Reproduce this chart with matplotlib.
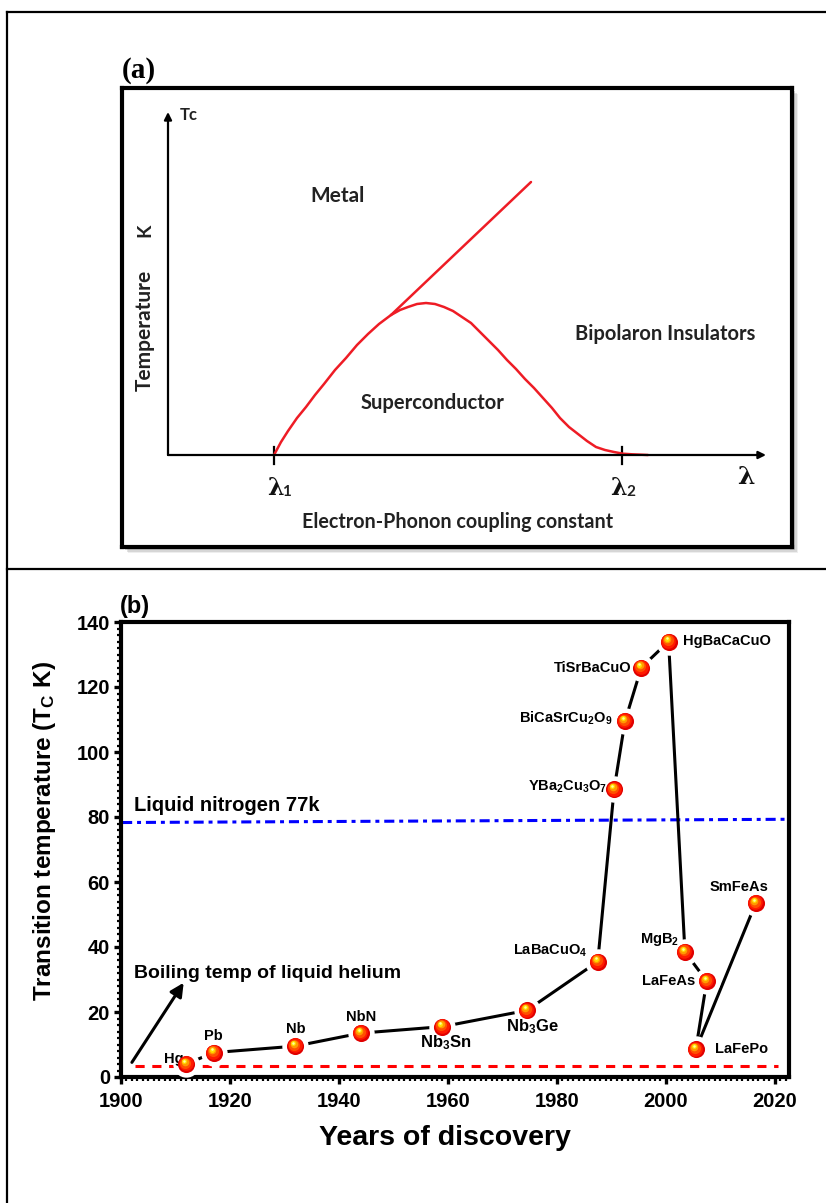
import matplotlib
matplotlib.use("Agg")
import matplotlib.pyplot as plt
from matplotlib.patches import Rectangle
from matplotlib.ticker import MultipleLocator
from matplotlib.transforms import offset_copy

plt.rcParams['font.family'] = ['Liberation Sans', 'DejaVu Sans']
plt.rcParams['mathtext.fontset'] = 'custom'
plt.rcParams['mathtext.rm'] = 'Liberation Sans:bold'
plt.rcParams['mathtext.it'] = 'Liberation Sans:bold'
plt.rcParams['mathtext.bf'] = 'Liberation Sans:bold'

# ---- panel (a): schematic phase diagram (units: lambda axis / temperature axis) ----
rise_u = [106, 113, 120, 129, 138, 147, 156, 167, 178, 189, 200, 211, 223]
rise_v = [0, 13, 24, 37, 48, 60, 71, 85, 97, 110, 121, 131, 140]
metal_u = [223, 363]
metal_v = [140, 273]
dome_u = [223, 232, 240, 249, 258, 267, 276, 285, 294, 303, 312, 321, 330, 339, 348,
          357, 366, 375, 384, 392, 401, 410, 419, 428, 437, 446, 455, 464, 480]
dome_v = [140, 145, 148, 151, 152, 151, 148, 144, 138, 132, 123, 114, 105, 95, 86,
          76, 67, 57, 47, 37, 28, 21, 14, 8, 5, 3, 1.3, 0.7, 0]
lambda1 = 106
lambda2 = 454

# ---- panel (b): superconductor discovery timeline ----
names = ['Hg', 'Pb', 'Nb', 'NbN', 'Nb$_3$Sn', 'Nb$_3$Ge', 'LaBaCuO$_4$',
         'YBa$_2$Cu$_3$O$_7$', 'BiCaSrCu$_2$O$_9$', 'TiSrBaCuO', 'HgBaCaCuO',
         'MgB$_2$', 'LaFeAs', 'LaFePo', 'SmFeAs']
years = [1912, 1917, 1932, 1944, 1959, 1974.5, 1987.5, 1990.5, 1992.5, 1995.5,
         2000.5, 2003.5, 2007.5, 2005.5, 2016.5]
tc = [4, 7.5, 9.5, 13.5, 15.5, 20.5, 35.5, 88.5, 109.5, 126, 134, 38.5, 29.5, 8.5, 53.5]
helium_tc = 3.5
nitrogen_tc = [78.3, 79.3]

# label placement (pixels: dx, dy, align, size)
label_pos = [(-3, 5, 'right', 10.5), (0, 17, 'center', 10.5), (0, 17, 'center', 10.5),
             (0, 16, 'center', 10.5), (3, -16, 'center', 12), (5, -16, 'center', 12),
             (-10, 11, 'right', 10.5), (-7, 3, 'right', 10.5), (-13, 3, 'right', 10.5),
             (-10, 0, 'right', 10.5), (14, 0, 'left', 10.5), (-6, 12, 'right', 10.5),
             (-11, 0, 'right', 10.5), (19, 0, 'left', 10.5), (-17, 16, 'center', 10.5)]

W, H = 826, 1203
fig = plt.figure(figsize=(W / 100, H / 100), dpi=100)

# background frame lines
bg = fig.add_axes([0, 0, 1, 1])
bg.set_xlim(0, W)
bg.set_ylim(H, 0)
bg.axis('off')
bg.plot([7, 7], [12, H], color='black', lw=1.6)
bg.plot([7, W], [12, 12], color='black', lw=1.6)
bg.plot([7, W], [569, 569], color='black', lw=1.6)
# soft shadow of panel (a) box
for k, a in zip([6, 4.5, 3], [0.12, 0.2, 0.3]):
    bg.add_patch(Rectangle((122 + k, 88 + k), 670, 459, facecolor='#777777',
                           edgecolor='none', alpha=a))
bg.text(122, 70, '(a)', fontsize=21, fontweight='bold', family='Liberation Serif',
        ha='left', va='center')

# panel (a)
ax_a = fig.add_axes([122 / W, (H - 547) / H, 670 / W, 459 / H])
ax_a.set_xlim(-46, 624)
ax_a.set_ylim(-92, 367)
ax_a.set_xticks([])
ax_a.set_yticks([])
for s in ax_a.spines.values():
    s.set_linewidth(3)
arr = dict(arrowstyle='-|>', lw=1.6, color='black', mutation_scale=11, shrinkA=0, shrinkB=0)
ax_a.annotate('', xy=(0, 343), xytext=(0, 0), arrowprops=arr)
ax_a.annotate('', xy=(598, 0), xytext=(0, 0), arrowprops=arr)
ax_a.plot([lambda1, lambda1], [-9, 8], color='black', lw=1.6)
ax_a.plot([lambda2, lambda2], [-9, 8], color='black', lw=1.6)
red = '#ee1c25'
ax_a.plot(rise_u, rise_v, color=red, lw=1.8, solid_capstyle='round', solid_joinstyle='round')
ax_a.plot(metal_u, metal_v, color=red, lw=1.8, solid_capstyle='round')
ax_a.plot(dome_u, dome_v, color=red, lw=1.8, solid_capstyle='round', solid_joinstyle='round')

tfont = dict(family=['Lato', 'DejaVu Sans'], fontweight='bold', color='#222222')
ax_a.text(12, 340, 'Tc', fontsize=12, ha='left', va='center', **tfont)
ax_a.text(170, 259, 'Metal', fontsize=15, ha='center', va='center', **tfont)
ax_a.text(265, 52, 'Superconductor', fontsize=14.5, ha='center', va='center', **tfont)
ax_a.text(497, 121, 'Bipolaron Insulators', fontsize=14.5, ha='center', va='center', **tfont)
ax_a.text(-23, 125, 'Temperature', fontsize=15, rotation=90, ha='center', va='center', **tfont)
ax_a.text(-23, 225, 'K', fontsize=14, rotation=90, ha='center', va='center', **tfont)
ax_a.text(290, -67, 'Electron-Phonon coupling constant', fontsize=14.2, ha='center',
          va='center', **tfont)
lfont = dict(family='DejaVu Serif', fontweight='bold', color='#111111')
ax_a.text(lambda1 + 1, -33, 'λ', fontsize=17, ha='center', va='center', **lfont)
ax_a.text(lambda1 + 8, -37, '1', fontsize=11, ha='left', va='center', **tfont)
ax_a.text(lambda2 - 4, -33, 'λ', fontsize=17, ha='center', va='center', **lfont)
ax_a.text(lambda2 + 4, -37, '2', fontsize=11, ha='left', va='center', **tfont)
ax_a.text(578, -22, 'λ', fontsize=18, ha='center', va='center', **lfont)

# panel (b)
ax = fig.add_axes([121 / W, (H - 1077) / H, 668 / W, 455 / H])
ax.set_xlim(1900, 2022.6)
ax.set_ylim(0, 140)
for s in ax.spines.values():
    s.set_linewidth(3)
ax.xaxis.set_major_locator(MultipleLocator(20))
ax.yaxis.set_major_locator(MultipleLocator(20))
ax.xaxis.set_minor_locator(MultipleLocator(1))
ax.yaxis.set_minor_locator(MultipleLocator(2))
ax.tick_params(which='major', direction='out', length=5, width=2.4, labelsize=14.5, pad=3)
ax.tick_params(axis='x', which='major', pad=6)
ax.tick_params(which='minor', direction='out', length=3, width=1.6)
for lab in ax.get_xticklabels() + ax.get_yticklabels():
    lab.set_fontweight('bold')

ax.plot([1902.5, 2020.5], [helium_tc, helium_tc], color='#ff0000', lw=2.2,
        dashes=(3, 2.5), zorder=2)
ax.plot([1900.2, 2022.5], nitrogen_tc, color='#0000ff', lw=2.2,
        dashes=(3.3, 1.6, 1.3, 1.6), zorder=2)

ax.plot(years, tc, color='black', lw=2.2, zorder=3, solid_capstyle='butt')
ax.plot(years, tc, 'o', ms=19, color='white', mec='none', zorder=4)
ball = [(0, 0, 12.3, '#e00000'), (-0.5, 0.7, 10.5, '#ff1a00'), (-1, 1.5, 8, '#ff5000'),
        (-1.5, 2.3, 5.5, '#ff9a00'), (-2, 3, 3.5, '#ffe000'), (-2, 3.3, 1.8, '#ffffa0')]
for i, (ox, oy, ms, c) in enumerate(ball):
    tr = offset_copy(ax.transData, fig=fig, x=ox, y=oy, units='dots')
    ax.plot(years, tc, 'o', ms=ms, color=c, mec='none', transform=tr, zorder=5 + i)

for name, x, y, (dx, dy, ha, fs) in zip(names, years, tc, label_pos):
    ax.annotate(name, (x, y), xytext=(dx * 0.72, dy * 0.72), textcoords='offset points',
                ha=ha, va='center', fontsize=fs, fontweight='bold', zorder=4.5)

ax.annotate('', xy=(1911.5, 29), xytext=(1902, 4.5),
            arrowprops=dict(arrowstyle='-|>', lw=2.2, color='black', mutation_scale=20,
                            shrinkA=0, shrinkB=0))
ax.text(1902.3, 32, 'Boiling temp of liquid helium', fontsize=14, fontweight='bold',
        ha='left', va='center')
ax.text(1902.3, 83.4, 'Liquid nitrogen 77k', fontsize=14.5, fontweight='bold',
        ha='left', va='center')
ax.text(-0.002, 1.035, '(b)', transform=ax.transAxes, fontsize=17, fontweight='bold',
        ha='left', va='center')

ax.set_ylabel('Transition temperature (T$_\\mathregular{C}$ K)', fontsize=17.5,
              fontweight='bold')
ax.yaxis.set_label_coords(-0.094, 0.54)
ax.set_xlabel('Years of discovery', fontsize=20.5, fontweight='bold')
ax.xaxis.set_label_coords(0.485, -0.105)

fig.savefig('out.png', dpi=100)
